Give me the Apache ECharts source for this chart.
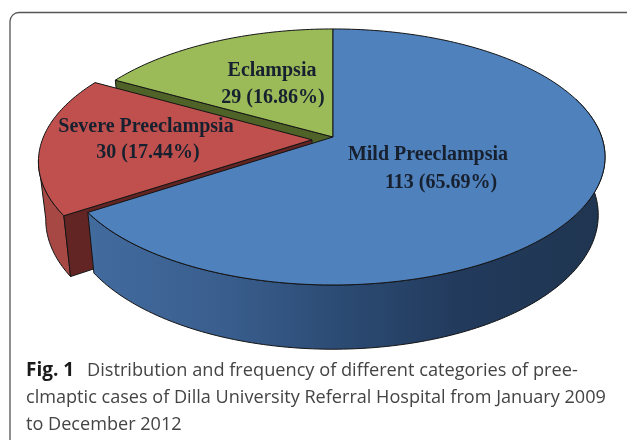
<!DOCTYPE html>
<html><head><meta charset="utf-8">
<style>html,body{margin:0;padding:0;background:#fff}#c{width:627px;height:440px}</style>
<script src="https://cdn.jsdelivr.net/npm/echarts@6/dist/echarts.min.js"></script>
</head><body><div id="c"></div>
<script>
const categories = ['Mild Preeclampsia', 'Severe Preeclampsia', 'Eclampsia'];
const caseCounts = [113, 30, 29];
const percentLabels = ['65.69%', '17.44%', '16.86%'];
const topColors = ['#4f81bd', '#c0504d', '#9bbb59'];
const cutColors = ['#2c4d75', '#632523', '#4f6228'];
const captionBold = 'Fig. 1';
const captionLines = ['Distribution and frequency of different categories of pree-',
  'clmaptic cases of Dilla University Referral Hospital from January 2009',
  'to December 2012'];

const total = caseCounts.reduce((a, b) => a + b, 0);
const CX = 333, CY = 137, K = 0.156;
const TOP = {bx: 268.7, ay: 124.9, dy: 0};
const BOT = {bx: 262, ay: 131, dy: 57};
const offsets = [[0, 0], [-0.078, -0.022], [0, 0]];
const labelName = [[428, 155], [146, 127], [272, 71]];
const labelValue = [[441, 183], [148, 153], [273, 98]];

function project(face, a, r, off) {
  const X = r * Math.sin(a) + off[0], Y = r * Math.cos(a) + off[1];
  const w = 1 + K * Y;
  return [CX + face.bx * X / w, CY - face.ay * Y / w + face.dy];
}
function arc(face, a0, a1, off) {
  const n = Math.max(2, Math.ceil(Math.abs(a1 - a0) / 0.02)), pts = [];
  for (let i = 0; i <= n; i++) pts.push(project(face, a0 + (a1 - a0) * i / n, 1, off));
  return pts;
}
const stroke = {stroke: '#141414', lineWidth: 1, lineJoin: 'round'};
function grad(stops) {
  return {type: 'linear', x: 0, y: 0, x2: 1, y2: 0, colorStops: stops};
}
const wallFills = [
  grad([{offset: 0, color: '#426b9e'}, {offset: 0.25, color: '#3a5f8f'}, {offset: 0.5, color: '#2b4a72'}, {offset: 0.72, color: '#223a5c'}, {offset: 1, color: '#1f3550'}]),
  grad([{offset: 0, color: '#a84845'}, {offset: 1, color: '#a84845'}]),
  '#6d8a3c'
];
const paint = [2, 1, 0];
function textEl(str, pos) {
  return {type: 'text', z2: 100, x: pos[0], y: pos[1],
    style: {text: str, font: 'bold 20px "Liberation Serif"', fill: '#17202e', align: 'center', verticalAlign: 'middle',
      shadowBlur: 1, shadowColor: 'rgba(20,30,40,0.4)'}};
}

function renderItem(params) {
  const i = params.dataIndex;
  const start = caseCounts.slice(0, i).reduce((a, b) => a + b, 0) / total * Math.PI * 2;
  const end = start + caseCounts[i] / total * Math.PI * 2;
  const off = offsets[i];
  const base = paint.indexOf(i) * 10 + 1;
  const tipT = project(TOP, 0, 0, off), tipB = project(BOT, 0, 0, off);
  const cornerT = project(TOP, start, 1, off);
  const cornerB = project(BOT, start, 1, off);
  const children = [];
  // curved outer wall (only the front-facing part is built)
  if (i !== 2) {
    const wStart = Math.max(start, 1.25);
    const wEnd = i === 0 ? end : Math.min(end, 4.55);
    const t = arc(TOP, wStart, wEnd, off), b = arc(BOT, wEnd, wStart, off);
    children.push({type: 'polygon', z2: base, shape: {points: t.concat(b)},
      style: Object.assign({fill: wallFills[i]}, stroke)});
  }
  // straight cut wall of the slices that open towards the viewer
  if (i !== 0) {
    children.push({type: 'polygon', z2: base + 1, shape: {points: [tipT, cornerT, cornerB, tipB]},
      style: Object.assign({fill: cutColors[i]}, stroke)});
  }
  // top face
  children.push({type: 'polygon', z2: base + 2, shape: {points: [tipT].concat(arc(TOP, start, end, off))},
    style: Object.assign({fill: topColors[i]}, stroke)});
  children.push(textEl(categories[i], labelName[i]));
  children.push(textEl(caseCounts[i] + ' (' + percentLabels[i] + ')', labelValue[i]));
  return {type: 'group', children};
}

const chart = echarts.init(document.getElementById('c'), null, {renderer: 'canvas'});
chart.setOption({
  backgroundColor: '#fff',
  animation: false,
  tooltip: {show: false},
  graphic: [
    {type: 'rect', shape: {x: 10, y: 12.5, width: 760, height: 600, r: 9}, silent: true,
      style: {fill: 'none', stroke: '#555', lineWidth: 1.3}, z: 0},
    {type: 'text', x: 26, y: 371, silent: true,
      style: {text: captionBold, font: 'bold 19px "Open Sans"', fill: '#1a1a1a', verticalAlign: 'middle'}},
    {type: 'text', x: 87, y: 371, silent: true,
      style: {text: captionLines[0], font: '18.2px "Open Sans"', fill: '#444', verticalAlign: 'middle'}},
    {type: 'text', x: 26, y: 398, silent: true,
      style: {text: captionLines[1], font: '18.1px "Open Sans"', fill: '#444', verticalAlign: 'middle'}},
    {type: 'text', x: 26, y: 425, silent: true,
      style: {text: captionLines[2], font: '18.1px "Open Sans"', fill: '#444', verticalAlign: 'middle'}}
  ],
  series: [{type: 'custom', coordinateSystem: 'none', silent: true, z: 2,
    renderItem, data: categories.map((name, i) => ({name, value: caseCounts[i]}))}]
});
</script></body></html>
